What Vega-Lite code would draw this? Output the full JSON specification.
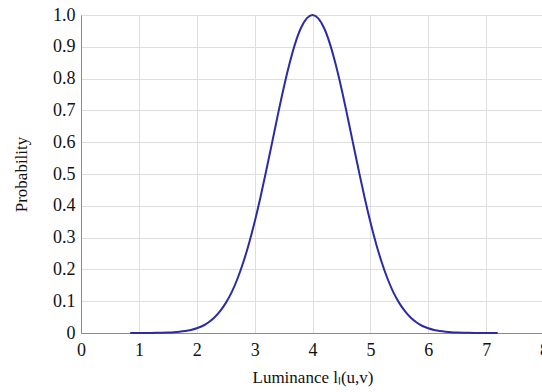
{
  "$schema": "https://vega.github.io/schema/vega-lite/v6.json",
  "autosize": {"type": "none"},
  "padding": {"left": 81, "top": 15, "right": 0, "bottom": 59},
  "width": 463,
  "height": 318,
  "background": "white",
  "config": {
    "font": "Liberation Serif",
    "view": {"stroke": "#9a9a9a", "strokeWidth": 1},
    "axis": {
      "labelFont": "Liberation Serif",
      "titleFont": "Liberation Serif",
      "labelFontSize": 18,
      "titleFontSize": 17,
      "labelColor": "#111",
      "titleColor": "#111",
      "titleFontWeight": "normal",
      "gridColor": "#dedede",
      "gridWidth": 1,
      "domainColor": "#8a8a8a",
      "ticks": false
    }
  },
  "data": {
    "values": [
      {"x": 0.85, "p": 0.0},
      {"x": 0.9, "p": 0.0001},
      {"x": 1.0, "p": 0.0001},
      {"x": 1.1, "p": 0.0002},
      {"x": 1.2, "p": 0.0003},
      {"x": 1.3, "p": 0.0005},
      {"x": 1.4, "p": 0.0008},
      {"x": 1.5, "p": 0.0014},
      {"x": 1.6, "p": 0.0023},
      {"x": 1.7, "p": 0.0038},
      {"x": 1.8, "p": 0.0061},
      {"x": 1.9, "p": 0.0096},
      {"x": 2.0, "p": 0.0148},
      {"x": 2.1, "p": 0.022},
      {"x": 2.2, "p": 0.033},
      {"x": 2.3, "p": 0.048},
      {"x": 2.4, "p": 0.068},
      {"x": 2.5, "p": 0.094},
      {"x": 2.6, "p": 0.127},
      {"x": 2.7, "p": 0.169},
      {"x": 2.8, "p": 0.22},
      {"x": 2.9, "p": 0.28},
      {"x": 3.0, "p": 0.349},
      {"x": 3.1, "p": 0.426},
      {"x": 3.2, "p": 0.51},
      {"x": 3.3, "p": 0.597},
      {"x": 3.4, "p": 0.685},
      {"x": 3.5, "p": 0.769},
      {"x": 3.6, "p": 0.845},
      {"x": 3.7, "p": 0.91},
      {"x": 3.8, "p": 0.959},
      {"x": 3.9, "p": 0.9895},
      {"x": 4.0, "p": 1.0},
      {"x": 4.1, "p": 0.9895},
      {"x": 4.2, "p": 0.959},
      {"x": 4.3, "p": 0.91},
      {"x": 4.4, "p": 0.845},
      {"x": 4.5, "p": 0.769},
      {"x": 4.6, "p": 0.685},
      {"x": 4.7, "p": 0.597},
      {"x": 4.8, "p": 0.51},
      {"x": 4.9, "p": 0.426},
      {"x": 5.0, "p": 0.349},
      {"x": 5.1, "p": 0.28},
      {"x": 5.2, "p": 0.22},
      {"x": 5.3, "p": 0.169},
      {"x": 5.4, "p": 0.127},
      {"x": 5.5, "p": 0.094},
      {"x": 5.6, "p": 0.068},
      {"x": 5.7, "p": 0.048},
      {"x": 5.8, "p": 0.033},
      {"x": 5.9, "p": 0.022},
      {"x": 6.0, "p": 0.0148},
      {"x": 6.1, "p": 0.0096},
      {"x": 6.2, "p": 0.0061},
      {"x": 6.3, "p": 0.0038},
      {"x": 6.4, "p": 0.0023},
      {"x": 6.5, "p": 0.0014},
      {"x": 6.6, "p": 0.0008},
      {"x": 6.7, "p": 0.0005},
      {"x": 6.8, "p": 0.0003},
      {"x": 6.9, "p": 0.0002},
      {"x": 7.0, "p": 0.0001},
      {"x": 7.1, "p": 0.0001},
      {"x": 7.2, "p": 0.0}
    ]
  },
  "mark": {"type": "line", "color": "#2b2ba6", "strokeWidth": 2, "interpolate": "monotone"},
  "encoding": {
    "x": {
      "field": "x",
      "type": "quantitative",
      "scale": {"domain": [0, 8], "nice": false, "zero": false},
      "axis": {
        "values": [0, 1, 2, 3, 4, 5, 6, 7, 8],
        "format": "d",
        "labelFont": "Liberation Serif",
        "title": "Luminance lₗ(u,v)",
        "labelPadding": 8,
        "titlePadding": 10,
        "labelFlush": false
      }
    },
    "y": {
      "field": "p",
      "type": "quantitative",
      "scale": {"domain": [0, 1], "nice": false},
      "axis": {
        "values": [0, 0.1, 0.2, 0.3, 0.4, 0.5, 0.6, 0.7, 0.8, 0.9, 1.0],
        "labelExpr": "datum.value == 0 ? '0' : format(datum.value, '.1f')",
        "labelFont": "Liberation Serif",
        "title": "Probability",
        "labelPadding": 6,
        "titlePadding": 22,
        "labelFlush": false
      }
    }
  }
}
